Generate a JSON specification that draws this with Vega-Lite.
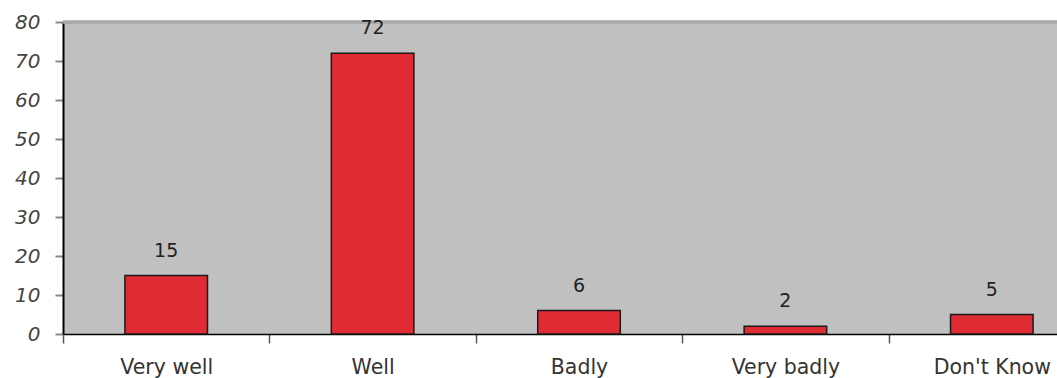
{
  "$schema": "https://vega.github.io/schema/vega-lite/v6.json",
  "width": 994,
  "height": 312,
  "autosize": {"type": "none"},
  "padding": {"left": 63, "top": 22, "right": 0, "bottom": 44},
  "background": "white",
  "config": {
    "view": {"fill": "#c0c0c0", "stroke": null},
    "axisX": {
      "title": null, "grid": false, "labelAngle": 0,
      "domainColor": "#000000", "domainWidth": 1.5,
      "tickColor": "#555555", "tickSize": 9, "tickWidth": 1.5,
      "tickOffset": -103.2, "labelOffset": 103.2,
      "labelFont": "DejaVu Sans", "labelFontSize": 20.5, "labelColor": "#333333",
      "labelBaseline": "alphabetic", "labelPadding": 30, "labelOverlap": false, "labelLimit": 0
    },
    "axisY": {
      "title": null, "grid": false, "labelOverlap": false,
      "domainColor": "#000000", "domainWidth": 2,
      "tickColor": "#888888", "tickSize": 8, "tickWidth": 2,
      "labelFont": "DejaVu Sans", "labelFontSize": 20, "labelFontStyle": "italic",
      "labelColor": "#444444", "labelPadding": 15
    }
  },
  "data": {
    "values": [
      {"response": "Very well", "value": 15},
      {"response": "Well", "value": 72},
      {"response": "Badly", "value": 6},
      {"response": "Very badly", "value": 2},
      {"response": "Don't Know", "value": 5}
    ]
  },
  "layer": [
    {
      "mark": {"type": "rule", "color": "#a8a8a8", "strokeWidth": 2.5},
      "encoding": {"y": {"datum": 80, "type": "quantitative", "axis": {"values": [0, 10, 20, 30, 40, 50, 60, 70, 80], "title": null}}}
    },
    {
      "mark": {"type": "bar", "fill": "#de2b34", "stroke": "#1a1a1a", "strokeWidth": 1.5},
      "encoding": {
        "x": {
          "field": "response", "type": "nominal", "sort": null,
          "scale": {"range": [0, 1032], "paddingInner": 0.6, "paddingOuter": 0.3},
          "axis": {"title": null, "tickOffset": -103.2, "labelOffset": 103.2}
        },
        "y": {
          "field": "value", "type": "quantitative",
          "scale": {"domain": [0, 80], "nice": false},
          "axis": {"values": [0, 10, 20, 30, 40, 50, 60, 70, 80], "title": null}
        }
      }
    },
    {
      "mark": {"type": "text", "dy": -19, "baseline": "alphabetic", "font": "DejaVu Sans", "fontSize": 19, "color": "#222222"},
      "encoding": {
        "x": {"field": "response", "type": "nominal", "sort": null, "axis": {"title": null, "tickOffset": -103.2, "labelOffset": 103.2}},
        "y": {"field": "value", "type": "quantitative", "axis": {"values": [0, 10, 20, 30, 40, 50, 60, 70, 80], "title": null}},
        "text": {"field": "value", "type": "quantitative"}
      }
    }
  ]
}
